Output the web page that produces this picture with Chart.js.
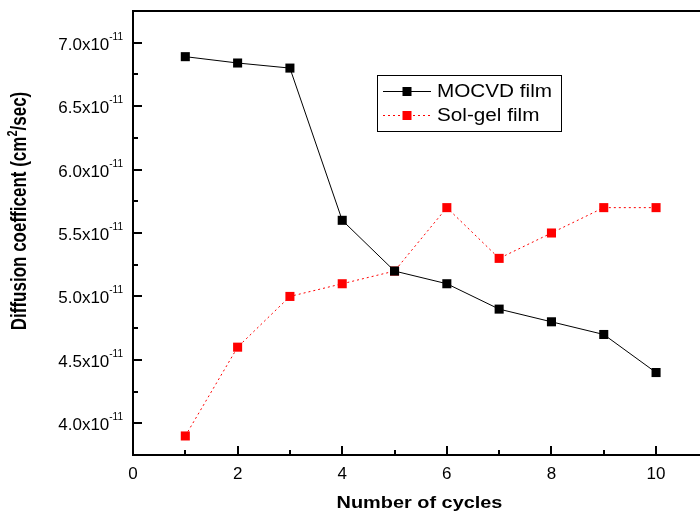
<!DOCTYPE html>
<html>
<head>
<meta charset="utf-8">
<script src="https://cdn.jsdelivr.net/npm/chart.js@4"></script>
<style>
html,body{margin:0;padding:0;background:#fff;}
#wrap{width:700px;height:512px;position:relative;}
</style>
</head>
<body>
<div id="wrap"><canvas id="c" width="700" height="512"></canvas></div>
<script>
// ---- data ----
const cycles = [1, 2, 3, 4, 5, 6, 7, 8, 9, 10];
const mocvdValues = [6.89, 6.84, 6.80, 5.60, 5.20, 5.10, 4.90, 4.80, 4.70, 4.40];
const solgelValues = [3.90, 4.60, 5.00, 5.10, 5.20, 5.70, 5.30, 5.50, 5.70, 5.70];
const seriesNames = ['MOCVD film', 'Sol-gel film'];
const xTickValues = [0, 2, 4, 6, 8, 10];
const xMinorTickValues = [1, 3, 5, 7, 9];
const yTickValues = [4.0, 4.5, 5.0, 5.5, 6.0, 6.5, 7.0];
const yMinorTickValues = [4.25, 4.75, 5.25, 5.75, 6.25, 6.75];
const yTickMantissas = ['4.0x10', '4.5x10', '5.0x10', '5.5x10', '6.0x10', '6.5x10', '7.0x10'];
const yTickExponent = '-11';
const xTitle = 'Number of cycles';
const yTitleParts = ['Diffusion coefficent (cm', '2', '/sec)'];

const FONT = '"Liberation Sans", Arial, sans-serif';

const framePlugin = {
  id: 'frame',
  afterDraw(chart) {
    const ctx = chart.ctx;
    const a = chart.chartArea;
    const xs = chart.scales.x, ys = chart.scales.y;
    ctx.save();
    ctx.strokeStyle = '#000';
    ctx.lineWidth = 2;
    // frame: left, bottom, top
    ctx.beginPath();
    ctx.moveTo(a.left, a.top);
    ctx.lineTo(a.right, a.top);
    ctx.moveTo(a.left, a.top - 1);
    ctx.lineTo(a.left, a.bottom + 1);
    ctx.moveTo(a.left, a.bottom);
    ctx.lineTo(a.right, a.bottom);
    ctx.stroke();
    // inward ticks
    ctx.beginPath();
    xTickValues.forEach(v => { const p = Math.round(xs.getPixelForValue(v)); ctx.moveTo(p, a.bottom); ctx.lineTo(p, a.bottom - 9); });
    xMinorTickValues.forEach(v => { const p = Math.round(xs.getPixelForValue(v)); ctx.moveTo(p, a.bottom); ctx.lineTo(p, a.bottom - 5); });
    yTickValues.forEach(v => { const p = Math.round(ys.getPixelForValue(v)); ctx.moveTo(a.left, p); ctx.lineTo(a.left + 9, p); });
    yMinorTickValues.forEach(v => { const p = Math.round(ys.getPixelForValue(v)); ctx.moveTo(a.left, p); ctx.lineTo(a.left + 5, p); });
    ctx.stroke();
    // y tick labels with superscript exponent
    ctx.fillStyle = '#000';
    ctx.textBaseline = 'alphabetic';
    ctx.textAlign = 'left';
    const baseFont = '17px ' + FONT, expFont = '10px ' + FONT;
    yTickValues.forEach((v, i) => {
      const p = ys.getPixelForValue(v);
      ctx.font = expFont;
      const we = ctx.measureText(yTickExponent).width;
      ctx.font = baseFont;
      const wb = ctx.measureText(yTickMantissas[i]).width;
      const right = a.left - 10;
      ctx.fillText(yTickMantissas[i], right - we - wb, p + 7);
      ctx.font = expFont;
      ctx.fillText(yTickExponent, right - we, p - 3);
    });
    // x title (horizontally stretched like the reference)
    ctx.save();
    ctx.font = 'bold 17px ' + FONT;
    ctx.translate((a.left + a.right) / 2 + 3, 508);
    ctx.scale(1.17, 1);
    ctx.textAlign = 'center';
    ctx.fillText(xTitle, 0, 0);
    ctx.restore();
    // y title
    ctx.save();
    const bf = 'bold 17px ' + FONT, sf = 'bold 11px ' + FONT;
    ctx.font = bf;
    const w0 = ctx.measureText(yTitleParts[0]).width;
    const w2 = ctx.measureText(yTitleParts[2]).width;
    ctx.font = sf;
    const w1 = ctx.measureText(yTitleParts[1]).width;
    const total = w0 + w1 + w2;
    ctx.translate(26, 211);
    ctx.scale(1.25, 1);
    ctx.rotate(-Math.PI / 2);
    ctx.textAlign = 'left';
    let sx = -total / 2;
    ctx.font = bf; ctx.fillText(yTitleParts[0], sx, 0); sx += w0;
    ctx.font = sf; ctx.fillText(yTitleParts[1], sx, -7); sx += w1;
    ctx.font = bf; ctx.fillText(yTitleParts[2], sx, 0);
    ctx.restore();
    // legend
    const lx = 377, ly = 75, lw = 184, lh = 56;
    ctx.lineWidth = 1;
    ctx.strokeStyle = '#000';
    ctx.strokeRect(lx + 0.5, ly + 0.5, lw, lh);
    const rows = [
      { y: 91, color: '#000', dash: [] },
      { y: 115, color: '#ff0000', dash: [2, 3] }
    ];
    rows.forEach((r, i) => {
      ctx.strokeStyle = r.color;
      ctx.setLineDash(r.dash);
      ctx.beginPath();
      ctx.moveTo(383, r.y + 0.5);
      ctx.lineTo(431, r.y + 0.5);
      ctx.stroke();
      ctx.setLineDash([]);
      ctx.fillStyle = r.color;
      ctx.fillRect(402.5, r.y - 4, 9, 9);
      ctx.fillStyle = '#000';
      ctx.save();
      ctx.font = '18px ' + FONT;
      ctx.textAlign = 'left';
      ctx.textBaseline = 'alphabetic';
      ctx.translate(437, r.y + 6);
      ctx.scale(1.15, 1);
      ctx.fillText(seriesNames[i], 0, 0);
      ctx.restore();
    });
    ctx.restore();
  }
};

new Chart(document.getElementById('c'), {
  type: 'line',
  data: {
    datasets: [
      {
        label: seriesNames[0],
        data: cycles.map((c, i) => ({ x: c, y: mocvdValues[i] })),
        borderColor: '#000',
        backgroundColor: '#000',
        borderWidth: 1,
        pointStyle: 'rect',
        pointRadius: 6.4,
        pointHoverRadius: 6.4,
        pointBorderWidth: 0,
        tension: 0
      },
      {
        label: seriesNames[1],
        data: cycles.map((c, i) => ({ x: c, y: solgelValues[i] })),
        borderColor: '#ff0000',
        backgroundColor: '#ff0000',
        borderWidth: 1,
        borderDash: [2, 3],
        pointStyle: 'rect',
        pointRadius: 6.4,
        pointHoverRadius: 6.4,
        pointBorderWidth: 0,
        tension: 0
      }
    ]
  },
  options: {
    responsive: false,
    animation: false,
    devicePixelRatio: 1,
    layout: { autoPadding: false, padding: { top: 11, right: 0, left: 0, bottom: 0 } },
    plugins: { legend: { display: false }, tooltip: { enabled: false } },
    scales: {
      x: {
        type: 'linear',
        min: 0,
        max: 10.84,
        afterBuildTicks: s => { s.ticks = xTickValues.map(v => ({ value: v })); },
        afterFit: s => { s.height = 57; s.paddingLeft = 0; s.paddingRight = 0; },
        grid: { display: false, drawTicks: false },
        border: { display: false },
        ticks: { color: '#000', font: { family: FONT, size: 17 }, padding: 9, maxRotation: 0, includeBounds: false },
        title: { display: false }
      },
      y: {
        type: 'linear',
        min: 3.75,
        max: 7.25,
        afterBuildTicks: s => { s.ticks = yTickValues.map(v => ({ value: v })); },
        afterFit: s => { s.width = 133; s.paddingTop = 0; s.paddingBottom = 0; },
        grid: { display: false, drawTicks: false },
        border: { display: false },
        ticks: { display: false },
        title: { display: false }
      }
    }
  },
  plugins: [framePlugin]
});
</script>
</body>
</html>
